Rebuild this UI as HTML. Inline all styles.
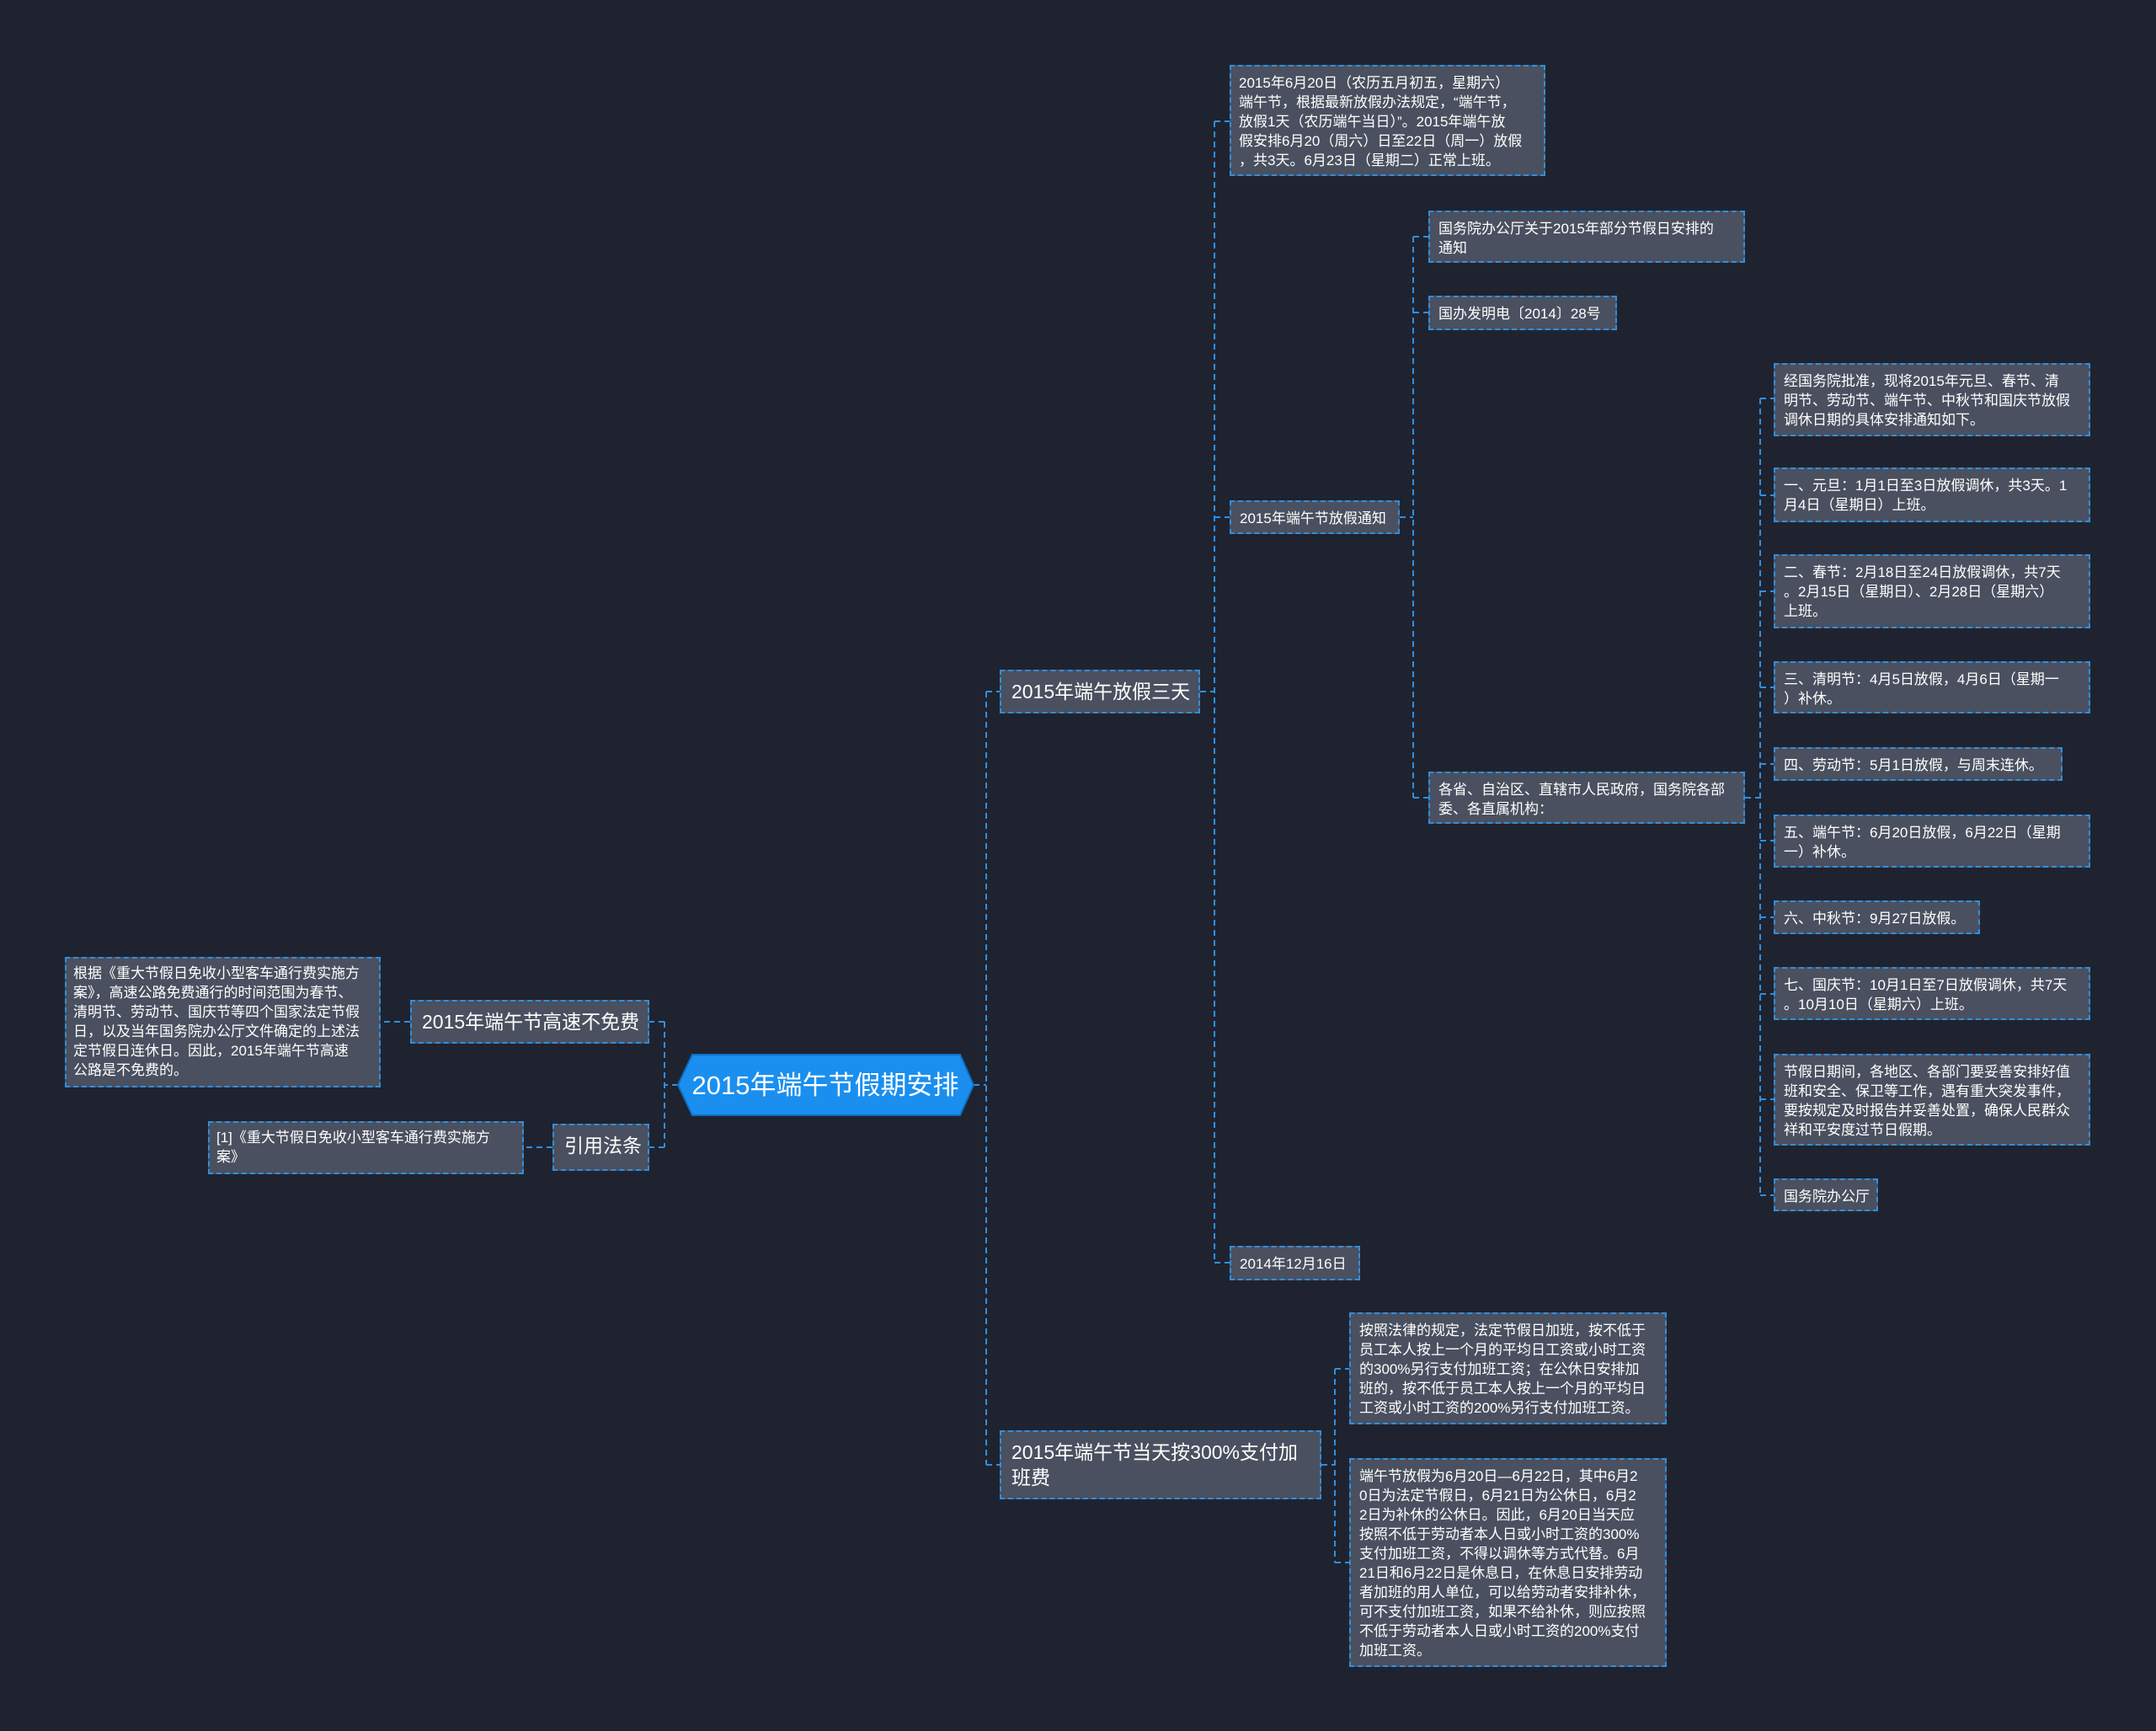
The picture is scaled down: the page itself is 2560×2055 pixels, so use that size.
<!DOCTYPE html>
<html><head><meta charset="utf-8"><style>
body{margin:0;width:2560px;height:2055px;background:#1f2330;overflow:hidden;position:relative;font-family:"Liberation Sans","Noto Sans CJK SC",sans-serif;}
.n{position:absolute;box-sizing:border-box;background:#4a505f;border:2px dashed #2f8fdf;color:#fff;font-size:17px;line-height:23px;padding:8px 10px;white-space:nowrap;overflow:hidden;}
.m{font-size:23px;line-height:30px;padding:9px 12px;}
svg{position:absolute;left:0;top:0;}
</style></head><body>
<svg width="2560" height="2055"><g stroke="#2f8fdf" stroke-width="2" stroke-dasharray="7,5" fill="none">
<path d="M1156 1288 H1171 M1171 821 V1739 M1171 821 H1187 M1171 1739 H1187"/>
<path d="M1425 821 H1442 M1442 144 V1499 M1442 144 H1460 M1442 614 H1460 M1442 1499 H1460"/>
<path d="M1662 614 H1678 M1678 281 V947 M1678 281 H1696 M1678 371 H1696 M1678 947 H1696"/>
<path d="M2072 947 H2090 M2090 473 V1419 M2090 473 H2106 M2090 588 H2106 M2090 702 H2106 M2090 816 H2106 M2090 907 H2106 M2090 998 H2106 M2090 1089 H2106 M2090 1180 H2106 M2090 1305 H2106 M2090 1419 H2106"/>
<path d="M1569 1739 H1585 M1585 1625 V1855 M1585 1625 H1602 M1585 1855 H1602"/>
<path d="M805 1288 H789 M789 1213 V1362 M789 1213 H771 M789 1362 H771 M487 1213 H452 M656 1362 H622"/>
</g>
<polygon points="822,1252 1140,1252 1156,1288 1140,1324 822,1324 805,1288" fill="#1a8fef" stroke="#0d6fc0" stroke-width="2"/>
<text x="980" y="1299" fill="#fff" font-size="31" text-anchor="middle" font-family="Liberation Sans, Noto Sans CJK SC, sans-serif">2015年端午节假期安排</text>
</svg>

<div class="n m" style="left:1187px;top:795px;width:238px;height:52px;">2015年端午放假三天</div>
<div class="n m" style="left:1187px;top:1698px;width:382px;height:82px;">2015年端午节当天按300%支付加<br>班费</div>
<div class="n m" style="left:487px;top:1187px;width:284px;height:52px;">2015年端午节高速不免费</div>
<div class="n m" style="left:656px;top:1334px;width:115px;height:56px;">引用法条</div>

<div class="n" style="left:77px;top:1136px;width:375px;height:155px;padding:6px 8px;">根据《重大节假日免收小型客车通行费实施方<br>案》，高速公路免费通行的时间范围为春节、<br>清明节、劳动节、国庆节等四个国家法定节假<br>日，以及当年国务院办公厅文件确定的上述法<br>定节假日连休日。因此，2015年端午节高速<br>公路是不免费的。</div>
<div class="n" style="left:247px;top:1331px;width:375px;height:63px;padding:6px 8px;">[1]《重大节假日免收小型客车通行费实施方<br>案》</div>

<div class="n" style="left:1460px;top:77px;width:375px;height:132px;padding:8px 9px;">2015年6月20日（农历五月初五，星期六）<br>端午节，根据最新放假办法规定，“端午节，<br>放假1天（农历端午当日）”。2015年端午放<br>假安排6月20（周六）日至22日（周一）放假<br>，共3天。6月23日（星期二）正常上班。</div>
<div class="n" style="left:1696px;top:250px;width:376px;height:62px;">国务院办公厅关于2015年部分节假日安排的<br>通知</div>
<div class="n" style="left:1696px;top:351px;width:224px;height:41px;">国办发明电〔2014〕28号</div>
<div class="n" style="left:1460px;top:594px;width:202px;height:40px;">2015年端午节放假通知</div>
<div class="n" style="left:1696px;top:916px;width:376px;height:62px;">各省、自治区、直辖市人民政府，国务院各部<br>委、各直属机构：</div>
<div class="n" style="left:1460px;top:1479px;width:155px;height:41px;">2014年12月16日</div>

<div class="n" style="left:2106px;top:431px;width:376px;height:87px;">经国务院批准，现将2015年元旦、春节、清<br>明节、劳动节、端午节、中秋节和国庆节放假<br>调休日期的具体安排通知如下。</div>
<div class="n" style="left:2106px;top:555px;width:376px;height:65px;">一、元旦：1月1日至3日放假调休，共3天。1<br>月4日（星期日）上班。</div>
<div class="n" style="left:2106px;top:658px;width:376px;height:88px;">二、春节：2月18日至24日放假调休，共7天<br>。2月15日（星期日）、2月28日（星期六）<br>上班。</div>
<div class="n" style="left:2106px;top:785px;width:376px;height:62px;">三、清明节：4月5日放假，4月6日（星期一<br>）补休。</div>
<div class="n" style="left:2106px;top:887px;width:343px;height:40px;">四、劳动节：5月1日放假，与周末连休。</div>
<div class="n" style="left:2106px;top:967px;width:376px;height:63px;">五、端午节：6月20日放假，6月22日（星期<br>一）补休。</div>
<div class="n" style="left:2106px;top:1069px;width:245px;height:40px;">六、中秋节：9月27日放假。</div>
<div class="n" style="left:2106px;top:1148px;width:376px;height:63px;">七、国庆节：10月1日至7日放假调休，共7天<br>。10月10日（星期六）上班。</div>
<div class="n" style="left:2106px;top:1251px;width:376px;height:109px;">节假日期间，各地区、各部门要妥善安排好值<br>班和安全、保卫等工作，遇有重大突发事件，<br>要按规定及时报告并妥善处置，确保人民群众<br>祥和平安度过节日假期。</div>
<div class="n" style="left:2106px;top:1399px;width:124px;height:39px;">国务院办公厅</div>

<div class="n" style="left:1602px;top:1558px;width:377px;height:133px;">按照法律的规定，法定节假日加班，按不低于<br>员工本人按上一个月的平均日工资或小时工资<br>的300%另行支付加班工资；在公休日安排加<br>班的，按不低于员工本人按上一个月的平均日<br>工资或小时工资的200%另行支付加班工资。</div>
<div class="n" style="left:1602px;top:1731px;width:377px;height:248px;">端午节放假为6月20日—6月22日，其中6月2<br>0日为法定节假日，6月21日为公休日，6月2<br>2日为补休的公休日。因此，6月20日当天应<br>按照不低于劳动者本人日或小时工资的300%<br>支付加班工资，不得以调休等方式代替。6月<br>21日和6月22日是休息日，在休息日安排劳动<br>者加班的用人单位，可以给劳动者安排补休，<br>可不支付加班工资，如果不给补休，则应按照<br>不低于劳动者本人日或小时工资的200%支付<br>加班工资。</div>
</body></html>
